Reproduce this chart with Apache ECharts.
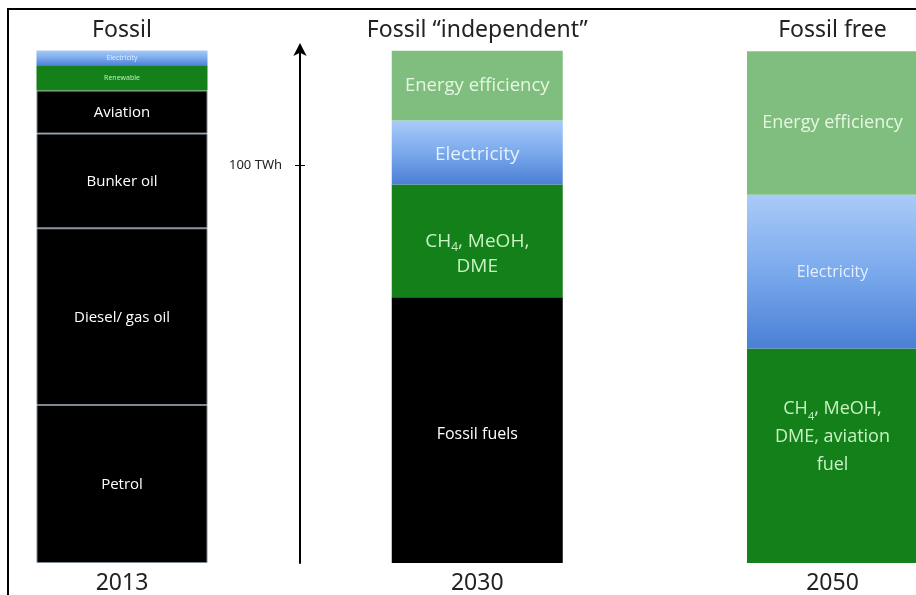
<!DOCTYPE html>
<html>
<head>
<meta charset="utf-8">
<script src="https://cdn.jsdelivr.net/npm/echarts@6/dist/echarts.min.js"></script>
<style>
html,body{margin:0;padding:0;background:#fff;}
#chart{width:916px;height:595px;}
</style>
</head>
<body>
<div id="chart"></div>
<script>
// ---- data (TWh) ----
const years = ['2013', '2030', '2050'];
const scenarioTitles = ['Fossil', 'Fossil \u201cindependent\u201d', 'Fossil free'];

// segments bottom -> top
const seg2013Names = ['Petrol', 'Diesel/ gas oil', 'Bunker oil', 'Aviation', 'Renewable', 'Electricity'];
const seg2013Values = [39.7, 44.4, 23.8, 10.8, 6.2, 3.9];

const seg2030Names = ['Fossil fuels', 'CH{sub|4}, MeOH,\nDME', 'Electricity', 'Energy efficiency'];
const seg2030Values = [66.8, 28.3, 16.1, 17.5];

const seg2050Names = ['CH{sub|4}, MeOH,\nDME, aviation\nfuel', 'Electricity', 'Energy efficiency'];
const seg2050Values = [53.9, 38.6, 36.1];

const axisTickValues = [100];
const axisTickLabel = '100 TWh';

// ---- styles ----
function kindOf(name) {
  if (name === 'Electricity') return 'elec';
  if (name === 'Energy efficiency') return 'ee';
  if (name === 'Renewable' || name.indexOf('CH{sub') === 0) return 'green';
  return 'fossil';
}
function elecGrad() {
  return new echarts.graphic.LinearGradient(0, 0, 0, 1, [
    {offset: 0, color: '#a9cbf8'},
    {offset: 0.5, color: '#7aa9ec'},
    {offset: 1, color: '#4a7fd5'}
  ]);
}
const FONT = '"Open Sans", "Noto Sans", sans-serif';

// label typography per bar and kind: [fontSize, lineHeight, offsetY]
const labelFmt = [
  {fossil: [15, 20, 1], green: [7, 9, 0], elec: [7, 9, 0], ee: [15, 20, 0]},
  {fossil: [16, 20, 4], green: [19, 25, 13], elec: [19, 24, 2], ee: [18.5, 24, 0]},
  {fossil: [16, 20, 0], green: [18, 28, -19], elec: [16, 22, 1], ee: [18, 24, 0]}
];

function segStyle(kind, barIdx) {
  if (kind === 'fossil') return {
    item: {color: '#000', borderColor: barIdx === 0 ? '#7d8894' : '#000', borderWidth: barIdx === 0 ? 1 : 0},
    textColor: '#fff'
  };
  if (kind === 'green') return {item: {color: '#148019'}, textColor: '#c9f2c4'};
  if (kind === 'elec') return {item: {color: elecGrad()}, textColor: '#e3f0ff'};
  return {item: {color: '#80be80'}, textColor: '#e6f7df'};
}

const series = [];
[[seg2013Names, seg2013Values], [seg2030Names, seg2030Values], [seg2050Names, seg2050Values]].forEach(function (pair, bi) {
  const names = pair[0], vals = pair[1];
  names.forEach(function (nm, j) {
    const kind = kindOf(nm);
    const st = segStyle(kind, bi);
    const data = years.map(function (_, k) { return k === bi ? vals[j] : '-'; });
    const f = labelFmt[bi][kind];
    const fs = f[0];
    series.push({
      type: 'bar',
      name: nm + '_' + bi,
      stack: 'total',
      barWidth: 171,
      data: data,
      itemStyle: st.item,
      emphasis: {disabled: true},
      label: {
        show: true,
        position: 'inside',
        offset: [0, f[2]],
        formatter: nm,
        color: st.textColor,
        fontFamily: FONT,
        fontSize: fs,
        lineHeight: f[1],
        align: 'center',
        rich: {
          sub: {fontSize: Math.round(fs * 0.62), color: st.textColor, fontFamily: FONT, lineHeight: f[1], verticalAlign: 'bottom', padding: [Math.round(fs * 0.45), 0, 0, 0]}
        }
      }
    });
  });
});

const chart = echarts.init(document.getElementById('chart'), null, {renderer: 'canvas'});
const yBase = {
  type: 'value',
  min: 0,
  max: 129,
  interval: 100,
  position: 'left',
  offset: -178,
  splitLine: {show: false}
};
chart.setOption({
  animation: false,
  backgroundColor: '#fff',
  grid: {left: 122, right: 83.5, top: 49.6, bottom: 32},
  xAxis: [{
    type: 'category',
    data: years,
    boundaryGap: false,
    axisLine: {show: false},
    axisTick: {show: false},
    splitLine: {show: false},
    axisLabel: {color: '#222', fontSize: 23, fontFamily: '"Noto Sans", sans-serif', margin: 9, interval: 0}
  }, {
    type: 'category',
    position: 'top',
    data: scenarioTitles,
    boundaryGap: false,
    axisLine: {show: false},
    axisTick: {show: false},
    splitLine: {show: false},
    axisLabel: {color: '#222', fontSize: 23, fontFamily: '"Noto Sans", sans-serif', margin: 8, interval: 0}
  }],
  yAxis: [Object.assign({}, yBase, {
    axisLine: {show: true, symbol: ['none', 'arrow'], symbolSize: [10, 13], symbolOffset: [0, 6.5], lineStyle: {color: '#000', width: 2}},
    axisTick: {show: true, customValues: axisTickValues, length: 5, lineStyle: {color: '#000', width: 1}},
    axisLabel: {
      show: true,
      customValues: axisTickValues,
      formatter: function (v) { return v === 100 ? axisTickLabel : ''; },
      color: '#222', fontSize: 13, fontFamily: '"Noto Sans", sans-serif', margin: 18
    }
  }), Object.assign({}, yBase, {
    axisLine: {show: false},
    axisTick: {show: true, inside: true, customValues: axisTickValues, length: 5, lineStyle: {color: '#000', width: 1}},
    axisLabel: {show: false}
  })],
  graphic: [{
    type: 'rect',
    shape: {x: 8, y: 9, width: 1200, height: 1200},
    style: {fill: 'none', stroke: '#000', lineWidth: 2},
    silent: true,
    z: 100
  }],
  series: series
});
</script>
</body>
</html>
